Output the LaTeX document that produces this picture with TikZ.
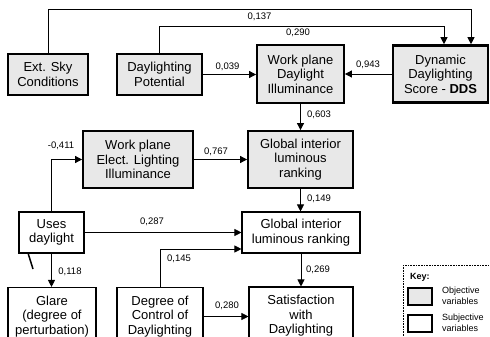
\documentclass[tikz,border=0pt]{standalone}
\usepackage{fontspec}
\setmainfont{Liberation Sans}
\usetikzlibrary{arrows.meta}
\definecolor{objgray}{HTML}{E8E8E8}
\begin{document}
\begin{tikzpicture}[x=1pt,y=-1pt,
 box/.style={draw, line width=1.1pt, align=center, inner sep=0pt, font=\fontsize{13}{14.5}\selectfont, fill=white},
 obj/.style={box, fill=objgray, line width=1.8pt},
 lbl/.style={font=\fontsize{9.5}{10}\selectfont, inner sep=0pt},
 keytxt/.style={font=\fontsize{9}{10.5}\selectfont, inner sep=0pt, align=left, anchor=west},
 arr/.style={line width=0.8pt, -{Triangle[length=7pt,width=7pt]}},
]
\useasboundingbox (0,0) rectangle (490,337);
\clip (0,0) rectangle (490,337);
\fill[white] (0,0) rectangle (490,337);

% nodes
\node[obj, minimum width=80pt, minimum height=41pt] (sky) at (48,74.5) {Ext. Sky\\Conditions};
\node[obj, minimum width=85pt, minimum height=41pt] (pot) at (159.5,74.5) {Daylighting\\Potential};
\node[obj, minimum width=87pt, minimum height=58pt] (wpdi) at (300.5,74) {Work plane\\Daylight\\Illuminance};
\node[obj, line width=2.6pt, minimum width=95pt, minimum height=57pt] (dds) at (440.5,74) {Dynamic\\Daylighting\\Score - \textbf{DDS}};
\node[obj, minimum width=110pt, minimum height=57pt] (wpel) at (138,159.5) {Work plane\\Elect. Lighting\\Illuminance};
\node[obj, minimum width=105pt, minimum height=57pt] (gilr1) at (300.5,159.5) {Global interior\\luminous\\ranking};
\node[box, minimum width=118pt, minimum height=41pt] (gilr2) at (301,232.5) {Global interior\\luminous ranking};
\node[box, minimum width=65pt, minimum height=41pt] (uses) at (51.5,232.5) {Uses\\daylight};
\node[box, minimum width=88pt, minimum height=58pt] (glare) at (52,316.5) {Glare\\(degree of\\perturbation)};
\node[box, minimum width=86pt, minimum height=58pt] (doc) at (160,316.5) {Degree of\\Control of\\Daylighting};
\node[box, minimum width=104pt, minimum height=58pt] (sat) at (301,316) {Satisfaction\\with\\Daylighting};

% connectors
\coordinate (c1) at (471,9.5);
\coordinate (c2) at (444,26);
\draw[arr] (sky.north) |- (c1) -- (c1 |- dds.north);
\draw[arr] (pot.north) |- (c2) -- (c2 |- dds.north);
\draw[arr] (pot.east) -- (pot.east -| wpdi.west);
\draw[arr] (dds.west) -- (dds.west -| wpdi.east);
\draw[arr] (wpdi.south) -- (wpdi.south |- gilr1.north);
\draw[arr] (wpel.east) -- (wpel.east -| gilr1.west);
\draw[arr] (uses.north) |- (wpel.west);
\draw[arr] (gilr1.south) -- (gilr1.south |- gilr2.north);
\draw[arr] (uses.east) -- (uses.east -| gilr2.west);
\draw[arr] (doc.north) |- ([yshift=-16.5pt]gilr2.west);
\draw[arr] (gilr2.south) -- (gilr2.south |- sat.north);
\draw[arr] (doc.east) -- (doc.east -| sat.west);
\draw[arr] (uses.south) -- (uses.south |- glare.north);
\draw[line width=1.5pt] (28,253) -- (33,269);

% labels
\node[lbl] (l1) at (259.5,17) {0,137};
\node[lbl] (l2) at (298,33) {0,290};
\node[lbl] (l3) at (227.5,67) {0,039};
\node[lbl] (l4) at (368,65) {0,943};
\node[lbl] (l5) at (319,115) {0,603};
\node[lbl] (l6) at (216,152) {0,767};
\node[lbl] (l7) at (61,146) {-0,411};
\node[lbl] (l8) at (319,199) {0,149};
\node[lbl] (l9) at (152,222) {0,287};
\node[lbl] (l10) at (179,259) {0,145};
\node[lbl] (l11) at (318,270) {0,269};
\node[lbl] (l12) at (227,306) {0,280};
\node[lbl] (l13) at (70,272) {0,118};

% key
\draw[densely dotted, line width=0.6pt] (403,265) rectangle (500,350);
\node[keytxt, font=\fontsize{9}{10}\selectfont\bfseries] (kt) at (410,277) {Key:};
\node[obj, minimum width=24pt, minimum height=17pt] (k1) at (420,296.5) {};
\node[box, minimum width=24pt, minimum height=17pt] (k2) at (420,323.5) {};
\node[keytxt] (k1t) at (442,296) {Objective\\variables};
\node[keytxt] (k2t) at (442,323) {Subjective\\variables};
\end{tikzpicture}
\end{document}
